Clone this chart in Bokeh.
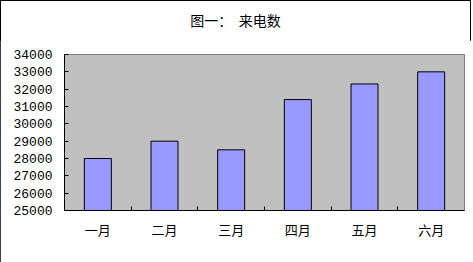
from bokeh.plotting import figure
from bokeh.models import Range1d, LinearAxis, FixedTicker, Div
from bokeh.layouts import column
from bokeh.embed import file_html
from bokeh.resources import INLINE

# monthly call counts
months = ["一月", "二月", "三月", "四月", "五月", "六月"]
calls = [28000, 29000, 28500, 31400, 32300, 33000]
y_ticks = list(range(25000, 34001, 1000))
title_text = "图一：\u00a0\u00a0来电数"

CJK = "Noto Sans CJK SC"
NUM = "Liberation Mono"

n = len(months)
centers = [i + 0.5 for i in range(n)]      # slot centre of each month
edges = list(range(1, n))                  # boundaries between months

# title line, centred across the whole chart
header = Div(
    text=title_text, width=471, height=40, margin=0,
    styles={
        "font-family": CJK, "font-size": "14px", "color": "black",
        "text-align": "center", "line-height": "40px",
        "white-space": "nowrap", "width": "471px",
    },
)

p = figure(
    width=471, height=222,
    x_range=Range1d(0, n),
    y_range=Range1d(25000, 34000),
    output_backend="svg", toolbar_location=None,
    title_location=None,
    x_axis_location=None, y_axis_location=None,
    min_border_left=64, min_border_right=7,
    min_border_top=14, min_border_bottom=52,
)

p.background_fill_color = "#C0C0C0"
p.border_fill_color = "white"
p.outline_line_color = "#808080"
p.outline_line_width = 1

# bars
p.vbar(x=centers, top=calls, bottom=25000, width=0.405,
       fill_color="#9999FF", line_color="black", line_width=1)

# value axis with inward ticks
yaxis = LinearAxis(
    ticker=FixedTicker(ticks=y_ticks),
    major_tick_in=4, major_tick_out=0,
    minor_tick_line_color=None,
    axis_line_color="black",
    major_label_text_font=NUM,
    major_label_text_font_size="13px",
    major_label_text_color="black",
    major_label_standoff=12,
)
p.add_layout(yaxis, "left")

# category-boundary tick marks on the bottom axis line (no labels)
edge_axis = LinearAxis(
    ticker=FixedTicker(ticks=edges),
    major_label_overrides={e: "" for e in edges},
    major_tick_in=4, major_tick_out=0,
    minor_tick_line_color=None,
    axis_line_color="black",
    major_label_standoff=0,
)
p.add_layout(edge_axis, "below")

# month labels under each slot
cat_axis = LinearAxis(
    ticker=FixedTicker(ticks=centers),
    major_label_overrides={c: m for c, m in zip(centers, months)},
    major_tick_line_color=None,
    minor_tick_line_color=None,
    axis_line_color=None,
    major_label_text_font=CJK,
    major_label_text_font_size="13px",
    major_label_text_color="black",
    major_label_standoff=3,
)
p.add_layout(cat_axis, "below")

p.grid.visible = False

chart = column(header, p, spacing=0)
chart.styles = {"outline": "1px solid black", "outline-offset": "-1px",
                "background-color": "white"}

open("out.html", "w").write(file_html(chart, INLINE))
